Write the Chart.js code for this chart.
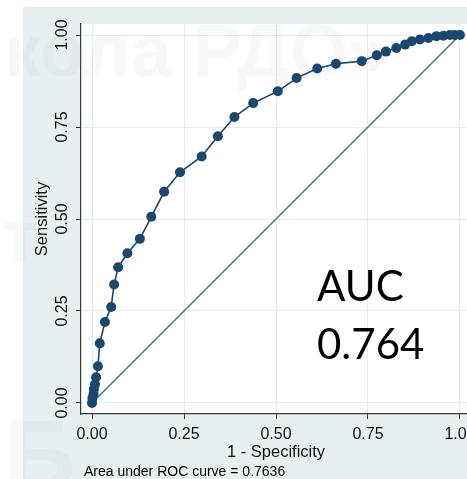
<!DOCTYPE html>
<html><head><meta charset="utf-8">
<script src="https://cdn.jsdelivr.net/npm/chart.js@4.4.1/dist/chart.umd.min.js"></script>
<style>
html,body{margin:0;padding:0;background:#fff;overflow:hidden;width:467px;height:479px}
#wrap{position:relative;width:500px;height:479px}
canvas{display:block}
</style></head><body>
<div id="wrap"><canvas id="c" width="500" height="479"></canvas></div>
<script>
// ROC curve points
const fpr = [0, 0.001, 0.004, 0.005, 0.008, 0.011, 0.016, 0.021, 0.035, 0.052,
             0.060, 0.071, 0.096, 0.130, 0.161, 0.196, 0.239, 0.298, 0.342, 0.387,
             0.438, 0.505, 0.556, 0.612, 0.663, 0.733, 0.774, 0.799, 0.827, 0.851,
             0.869, 0.891, 0.914, 0.936, 0.955, 0.973, 0.986, 1.0];
const tpr = [0, 0.013, 0.024, 0.037, 0.051, 0.070, 0.100, 0.162, 0.220, 0.261,
             0.322, 0.369, 0.407, 0.446, 0.506, 0.574, 0.627, 0.670, 0.725, 0.777,
             0.815, 0.847, 0.883, 0.909, 0.922, 0.929, 0.945, 0.955, 0.965, 0.974,
             0.983, 0.988, 0.992, 0.997, 0.998, 1.0, 1.0, 1.0];
const diagX = [0, 1];
const diagY = [0, 1];
const xTickValues = [0, 0.25, 0.5, 0.75, 1];
const xTickLabels = ['0.00', '0.25', '0.50', '0.75', '1.00'];
const yTickValues = [0, 0.25, 0.5, 0.75, 1];
const yTickLabels = ['0.00', '0.25', '0.50', '0.75', '1.00'];
const xTitle = '1 - Specificity';
const yTitle = 'Sensitivity';
const noteText = 'Area under ROC curve = 0.7636';
const aucLines = ['AUC', '0.764'];
const watermarkTop = 'кола РДО»';
const watermarkMid = 'т';
const watermarkBottom = 'Б';

const NAVY = '#1a476f';
const TEAL = '#3a7d6c';
const BAND = '#e8eff1';
const GRID = '#e3ecee';
const AXIS = '#3a3a3a';

const rocData = fpr.map((x, i) => ({x: x, y: tpr[i]}));
const diagData = diagX.map((x, i) => ({x: x, y: diagY[i]}));

const decor = {
  id: 'decor',
  beforeDraw(chart) {
    const ctx = chart.ctx, a = chart.chartArea;
    ctx.save();
    ctx.fillStyle = '#ffffff';
    ctx.fillRect(0, 0, chart.width, chart.height);
    ctx.fillStyle = BAND;
    ctx.fillRect(23, 7, chart.width - 23, chart.height - 7);
    ctx.fillStyle = '#ffffff';
    ctx.fillRect(a.left, a.top, a.right - a.left, a.bottom - a.top);
    ctx.restore();
  },
  beforeDatasetsDraw(chart) {
    const ctx = chart.ctx;
    ctx.save();
    ctx.fillStyle = 'rgba(170,170,170,0.08)';
    ctx.textBaseline = 'alphabetic';
    ctx.textAlign = 'left';
    ctx.font = 'bold 74px "Liberation Sans", Arial, sans-serif';
    ctx.fillText(watermarkTop, 4, 76);
    ctx.fillText(watermarkMid, 2, 262);
    ctx.font = 'bold 100px "Liberation Sans", Arial, sans-serif';
    ctx.fillText(watermarkBottom, 4, 490);
    ctx.restore();
  },
  afterDraw(chart) {
    const ctx = chart.ctx;
    ctx.save();
    ctx.fillStyle = '#000';
    ctx.textAlign = 'left';
    ctx.textBaseline = 'middle';
    ctx.font = '14px "Liberation Sans", Arial, sans-serif';
    ctx.fillText(noteText, 84, 472);
    ctx.textBaseline = 'alphabetic';
    ctx.font = '42px Lato, "Open Sans", sans-serif';
    ctx.fillText(aucLines[0], 317, 301);
    ctx.fillText(aucLines[1], 317, 359);
    ctx.restore();
  }
};

new Chart(document.getElementById('c'), {
  type: 'scatter',
  data: {
    datasets: [
      {
        data: rocData, showLine: true, borderColor: NAVY, backgroundColor: NAVY,
        borderWidth: 1.6, pointRadius: 5, pointHoverRadius: 5, pointBorderWidth: 0,
        pointBackgroundColor: NAVY, tension: 0
      },
      {
        data: diagData, showLine: true, borderColor: TEAL, borderWidth: 1.4,
        pointRadius: 0, pointHoverRadius: 0, tension: 0
      }
    ]
  },
  options: {
    responsive: false, animation: false, devicePixelRatio: 1,
    layout: {padding: {left: 0, top: 24, right: 29, bottom: 0}},
    plugins: {legend: {display: false}, tooltip: {enabled: false}},
    scales: {
      x: {
        type: 'linear', min: -0.03, max: 1.03,
        afterBuildTicks: s => { s.ticks = xTickValues.map(v => ({value: v})); },
        afterFit: s => { s.height = 65; },
        ticks: {
          color: '#111', padding: 6,
          font: {family: '"Liberation Sans", Arial, sans-serif', size: 16},
          callback: (v) => { const i = xTickValues.indexOf(v); return i >= 0 ? xTickLabels[i] : ''; },
          maxRotation: 0, minRotation: 0
        },
        grid: {color: GRID, lineWidth: 1, tickColor: AXIS, tickLength: 5, drawTicks: true},
        border: {display: true, color: AXIS, width: 1.2},
        title: {display: true, text: xTitle, color: '#111',
          font: {family: '"Liberation Sans", Arial, sans-serif', size: 16.5},
          padding: {top: 0, bottom: 17}}
      },
      y: {
        type: 'linear', min: -0.03, max: 1.03,
        afterBuildTicks: s => { s.ticks = yTickValues.map(v => ({value: v})); },
        afterFit: s => { s.width = 81; },
        ticks: {
          color: '#111', padding: -2.5, crossAlign: 'center',
          minRotation: 90, maxRotation: 90,
          font: {family: '"Liberation Sans", Arial, sans-serif', size: 16},
          callback: (v) => { const i = yTickValues.indexOf(v); return i >= 0 ? yTickLabels[i] : ''; }
        },
        grid: {color: GRID, lineWidth: 1, tickColor: AXIS, tickLength: 5, drawTicks: true},
        border: {display: true, color: AXIS, width: 1.2},
        title: {display: true, text: yTitle, color: '#111',
          font: {family: '"Liberation Sans", Arial, sans-serif', size: 16.5},
          padding: {top: 33, bottom: 0}}
      }
    }
  },
  plugins: [decor]
});
</script>
</body></html>
